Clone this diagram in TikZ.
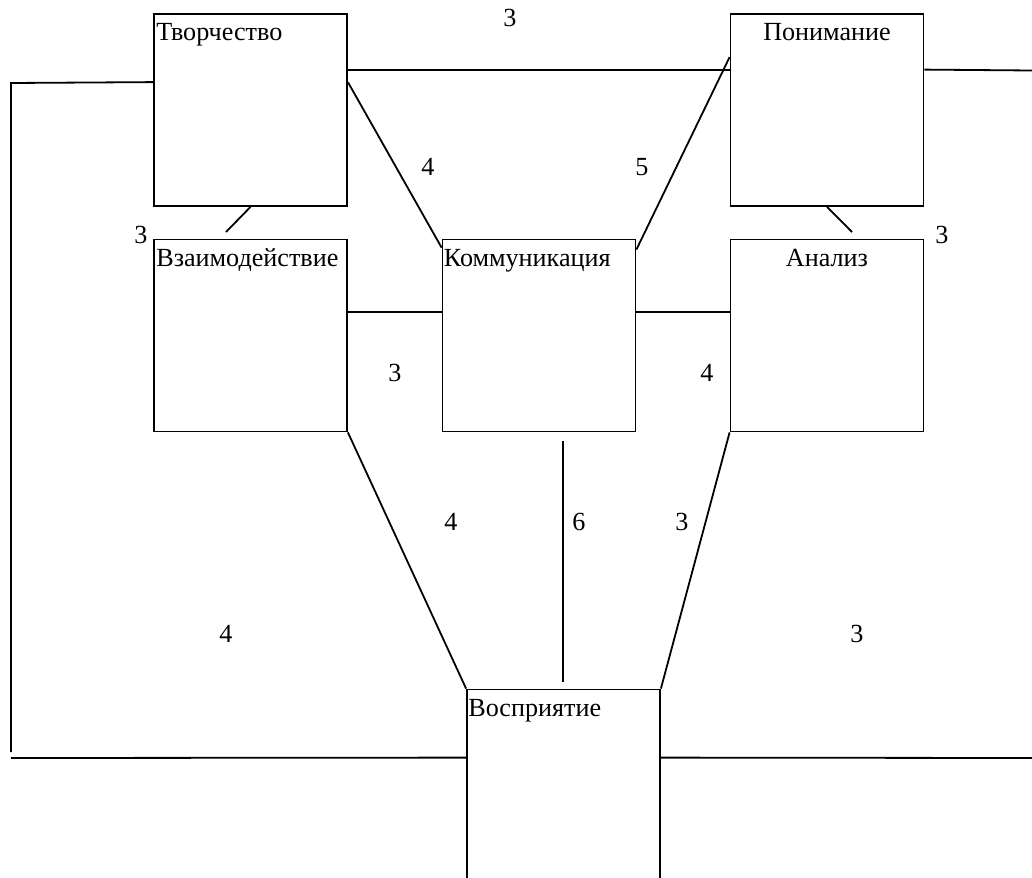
\documentclass[tikz,border=0pt]{standalone}
\usepackage{fontspec}
\setmainfont{Liberation Serif}
\usetikzlibrary{calc}
\begin{document}
\begin{tikzpicture}[x=0.75pt,y=-0.75pt,
  box/.style={draw,line width=1.35pt,rectangle,inner sep=0pt,minimum width=144.75pt,minimum height=144pt},
  wire/.style={line width=1.35pt},
  txt/.style={font=\fontsize{19.6}{20}\selectfont,inner sep=0pt},
  num/.style={font=\fontsize{19.6}{20}\selectfont,inner sep=0pt,anchor=center}]
\useasboundingbox (0,0) rectangle (1032,878);
% boxes
\node[box] (tv) at (250.5,110) {};
\node[box] (pn) at (827,110) {};
\node[box] (vz) at (250.5,335.5) {};
\node[box] (km) at (539,335.5) {};
\node[box] (an) at (827,335.5) {};
\node[box] (vs) at (563.5,785.5) {};
% texts
\node[txt,anchor=base west] at ($(tv.north west)+(3,27.5)$) {Творчество};
\node[txt,anchor=base] at ($(pn.north)+(0,27.5)$) {Понимание};
\node[txt,anchor=base west] at ($(vz.north west)+(3,27.5)$) {Взаимодействие};
\node[txt,anchor=base west] at ($(km.north west)+(2,27.5)$) {Коммуникация};
\node[txt,anchor=base] at ($(an.north)+(0,27.5)$) {Анализ};
\node[txt,anchor=base west] at ($(vs.north west)+(2,27.5)$) {Восприятие};
% free ends
\coordinate (L1) at (11,83);
\coordinate (L2) at (11,752);
\coordinate (L3) at (11,758);
\coordinate (R1) at (1032,70.5);
\coordinate (R2) at (1032,758);
\coordinate (S1) at (226,232);
\coordinate (S2) at (852,232);
\coordinate (V1) at (563,441);
\coordinate (V2) at (563,682);
% connectors
\draw[wire] ($(tv.north west)+(0,69)$) -- (L1) -- (L2);
\draw[wire] (L3) -- ($(vs.north west)+(0,69)$);
\draw[wire] ($(vs.north east)+(0,69)$) -- (R2);
\draw[wire] ($(tv.north east)+(0,56.5)$) -- ($(pn.north west)+(0,56.5)$);
\draw[wire] ($(pn.north east)+(0,56.5)$) -- (R1);
\draw[wire] ($(tv.north east)+(0,69)$) -- ($(km.north west)+(0,9)$);
\draw[wire] ($(pn.north west)+(0,44)$) -- ($(km.north east)+(0,11)$);
\draw[wire] (tv.south) -- (S1);
\draw[wire] (pn.south) -- (S2);
\draw[wire] ($(vz.north east)+(0,73)$) -- ($(km.north west)+(0,73)$);
\draw[wire] ($(km.north east)+(0,73)$) -- ($(an.north west)+(0,73)$);
\draw[wire] (vz.south east) -- (vs.north west);
\draw[wire] (an.south west) -- (vs.north east);
\draw[wire] (V1) -- (V2);
% numbers
\node[num] (n1) at (510,18) {3};
\node[num] (n2) at (428,167) {4};
\node[num] (n3) at (642,167) {5};
\node[num] (n4) at (141,235) {3};
\node[num] (n5) at (942,235) {3};
\node[num] (n6) at (395,373) {3};
\node[num] (n7) at (707,373) {4};
\node[num] (n8) at (451,522) {4};
\node[num] (n9) at (579,522) {6};
\node[num] (n10) at (682,522) {3};
\node[num] (n11) at (226,634) {4};
\node[num] (n12) at (857,634) {3};
\end{tikzpicture}
\end{document}
